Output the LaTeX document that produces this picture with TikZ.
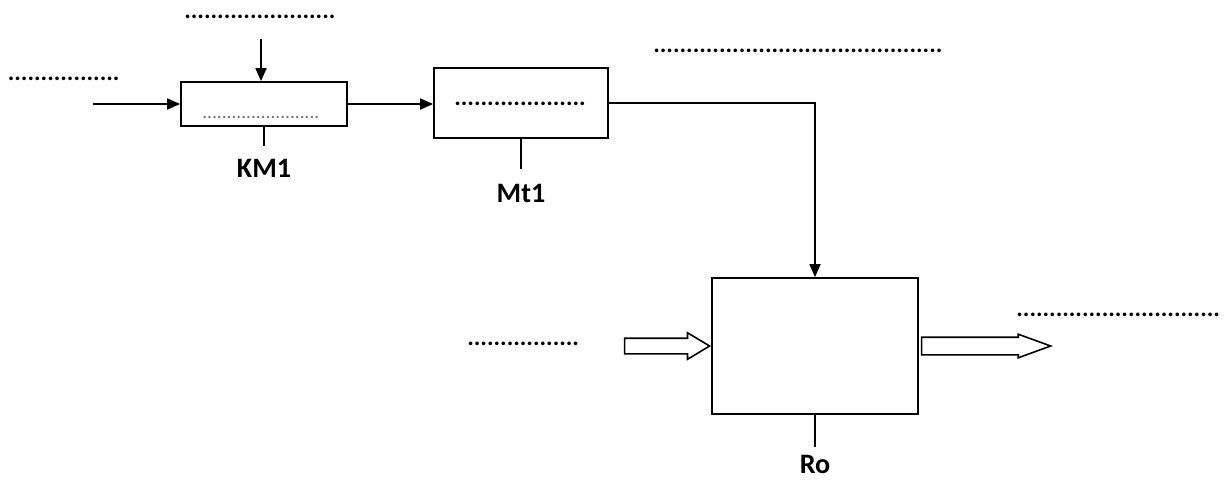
\documentclass[tikz,border=0pt]{standalone}
\usepackage{fontspec}
\setmainfont{Carlito}
\usepackage{tikz}
\usetikzlibrary{arrows.meta,positioning,calc,shapes.arrows}

% a row of n dots (blank to be filled in)
\newcommand{\blank}[1]{\foreach\i in {1,...,#1}{.}}

\begin{document}
\begin{tikzpicture}[
    box/.style={rectangle, draw, line width=1pt, inner sep=0pt},
    arrow/.style={-{Triangle[length=0.26cm,width=0.22cm]}, line width=1pt},
    tick/.style={line width=0.8pt},
    lab/.style={inner sep=0pt, font=\fontsize{16}{18}\selectfont\bfseries},
    gap/.style={inner sep=0pt, anchor=base west, font=\fontsize{14}{16}\selectfont\bfseries},
    fatarrow/.style={single arrow, draw, line width=0.9pt, single arrow head indent=0pt}
]
\useasboundingbox (0,0) rectangle (24.54,-9.6);

% Boxes
\node[box, minimum width=3.32cm, minimum height=0.88cm] (km1) at (5.28,-2.08) {};
\node[box, minimum width=3.48cm, minimum height=1.4cm] (mt1) at (10.42,-2.06) {};
\node[box, minimum width=4.12cm, minimum height=2.72cm] (ro) at (16.3,-6.92) {};

% Text inside boxes
\node[gap, font=\fontsize{11}{13}\selectfont, text=black!55] (km1txt) at (4.04,-2.36) {\blank{24}};
\node[gap] (mt1txt) at (9.08,-2.1) {\blank{20}};

% Blanks round the boxes
\node[gap] (km1top) at (3.68,-0.37) {\blank{23}};
\node[gap] (km1left) at (0.15,-1.61) {\blank{17}};
\node[gap] (mt1out) at (13.06,-1.05) {\blank{44}};
\node[gap] (roin) at (9.34,-6.91) {\blank{17}};
\node[gap] (roout) at (20.32,-6.33) {\blank{31}};

% Arrows
\coordinate (kin) at (1.86,-2.08);
\coordinate (ktop) at (5.22,-0.78);
\draw[arrow] (kin) -- (kin -| km1.west);
\draw[arrow] (ktop) -- (ktop |- km1.north);
\draw[arrow] (km1.east) -- (km1.east -| mt1.west);
\draw[arrow] (mt1.east) -| (ro.north);

% Hollow arrows
\node[fatarrow, inner sep=0.14cm, minimum height=1.7cm, single arrow head extend=0.11cm,
      single arrow tip angle=62, anchor=tip] (roinarrow) at (ro.west) {};
\node[fatarrow, inner sep=0.16cm, minimum height=2.58cm, single arrow head extend=0.06cm,
      single arrow tip angle=40, anchor=tail] (rooutarrow) at ([xshift=0.04cm]ro.east) {};

% Ticks and labels
\coordinate[below=0.38cm of km1] (km1tick);
\coordinate[below=0.6cm of mt1] (mt1tick);
\coordinate[below=0.64cm of ro] (rotick);
\draw[tick] (km1) -- (km1tick);
\draw[tick] (mt1) -- (mt1tick);
\draw[tick] (ro) -- (rotick);
\node[lab, below=0.26cm of km1tick] (km1lab) {KM1};
\node[lab, below=0.3cm of mt1tick] (mt1lab) {Mt1};
\node[lab, below=0.17cm of rotick] (rolab) {Ro};

\end{tikzpicture}
\end{document}
